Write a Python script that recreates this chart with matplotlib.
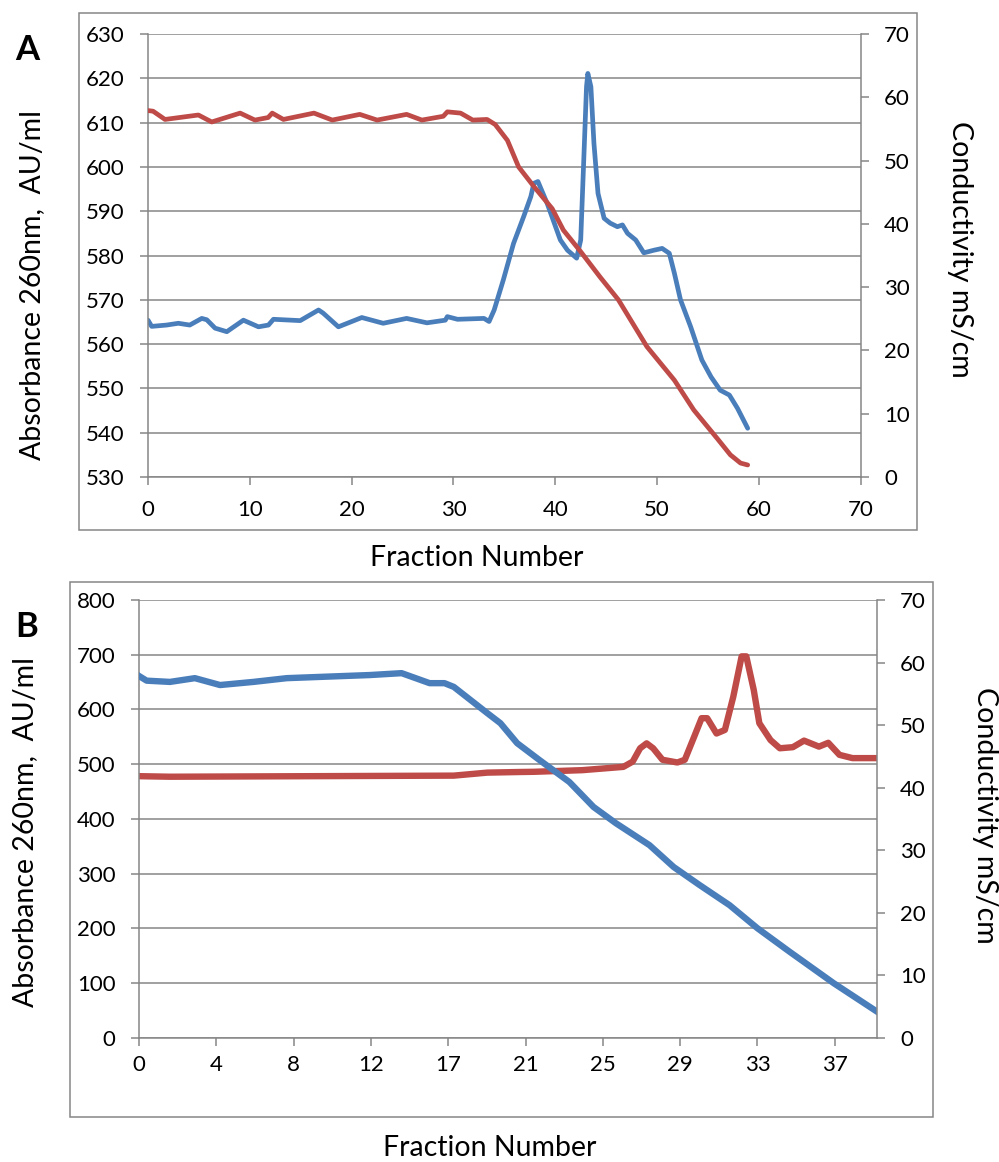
import matplotlib
matplotlib.use('Agg')
import matplotlib.pyplot as plt
from matplotlib.patches import Rectangle
import numpy as np

plt.rcParams['font.family'] = ['Lato', 'DejaVu Sans']

######################### DATA ################################################

# panel A: absorbance (blue, left axis) and conductivity (red, right axis)
a_frac_abs = [0, 0.36, 1.83, 2.98, 4.1, 5.28, 5.77, 6.59, 7.74, 9.37,
              10.85, 11.83, 12.32, 14.95, 16.75, 17.2, 18.7, 21.0, 23.1, 25.4,
              27.4, 29.2, 29.4, 30.4, 33.0, 33.5, 34.0, 34.9, 35.9, 36.9,
              37.6, 37.9, 38.3, 39.2, 40.5, 41.2, 42.1, 42.5, 42.8, 43.07,
              43.2, 43.5, 43.8, 44.2, 44.8, 45.4, 46.1, 46.6, 47.1, 47.9,
              48.7, 49.7, 50.5, 51.2, 51.7, 52.3, 53.3, 54.4, 55.3, 56.2,
              57.1, 57.9, 58.9]
a_abs = [565.4, 564.0, 564.3, 564.7, 564.3, 565.8, 565.5, 563.6, 562.8, 565.4,
         563.9, 564.3, 565.6, 565.3, 567.7, 567.0, 563.9, 566.0, 564.7, 565.8,
         564.8, 565.4, 566.2, 565.6, 565.8, 565.1, 567.7, 574.5, 582.7, 588.8,
         593.3, 596.3, 596.7, 591.8, 583.5, 581.2, 579.4, 583.5, 601.6, 618.1,
         621.1, 618.1, 605.3, 594.0, 588.4, 587.3, 586.5, 586.9, 585.0, 583.5,
         580.6, 581.2, 581.6, 580.5, 576.0, 570.0, 563.9, 556.4, 552.6, 549.6,
         548.5, 545.5, 541.0]

a_frac_cond = [0, 0.5, 1.67, 4.95, 6.26, 9.05, 10.5, 11.8, 12.2, 13.3,
               16.3, 18.1, 20.8, 22.5, 25.4, 26.9, 29.0, 29.4, 30.7, 31.9,
               33.3, 34.1, 35.3, 36.4, 37.9, 39.7, 40.8, 42.5, 44.4, 46.2,
               47.6, 49.0, 51.7, 53.6, 55.9, 57.2, 58.2, 58.9]
a_cond = [57.9, 57.8, 56.5, 57.2, 56.1, 57.5, 56.4, 56.8, 57.5, 56.5,
          57.5, 56.4, 57.3, 56.4, 57.3, 56.4, 57.0, 57.7, 57.5, 56.4,
          56.5, 55.7, 53.2, 49.0, 45.9, 42.4, 39.0, 35.6, 31.6, 28.0,
          24.3, 20.6, 15.3, 10.6, 6.1, 3.5, 2.2, 1.9]

# panel B: absorbance (red, left axis) and conductivity (blue, right axis)
b_frac_abs = [0, 1.66, 16.9, 18.7, 20.4, 21.2, 23.8, 26.0, 26.5, 26.9,
              27.25, 27.6, 28.1, 28.9, 29.3, 29.8, 30.2, 30.5, 31.0, 31.45,
              31.9, 32.35, 32.6, 33.0, 33.3, 33.9, 34.4, 35.1, 35.7, 36.5,
              37.0, 37.6, 38.3, 39.6]
b_abs = [478, 477, 479, 484.5, 485.6, 486, 489, 495, 504.6, 529,
         538, 529, 508, 503, 508, 550, 584, 584, 556, 562.5,
         623, 697, 697, 635.6, 574.8, 544, 529, 531, 543, 532,
         539, 517, 511, 511]

b_frac_cond = [0, 0.41, 1.66, 3.0, 4.35, 6.14, 7.93, 10.6, 12.4, 14.1,
               15.6, 16.4, 16.9, 18.7, 19.4, 20.3, 21.5, 23.1, 24.4, 25.6,
               27.4, 28.7, 30.1, 31.7, 33.2, 34.9, 37.3, 39.6]
b_cond = [57.85, 57.1, 56.9, 57.5, 56.4, 56.9, 57.5, 57.8, 58.0, 58.3,
          56.7, 56.7, 56.1, 51.9, 50.3, 47.1, 44.4, 40.9, 36.9, 34.3,
          30.8, 27.3, 24.4, 21.2, 17.5, 13.8, 8.7, 4.2]

b_xlabels = ['0', '4', '8', '12', '17', '21', '25', '29', '33', '37']

######################### FIG PARAMS ##########################################

W, H = 999, 1162
blue = '#4A7EBB'
red = '#BE4B48'
gray = '#868686'
tfs = 16     # tick label size
lfs = 20.5   # axis title size
ylab = 'Absorbance 260nm,  AU/ml'
y2lab = 'Conductivity mS/cm'
xlab = 'Fraction Number'


def px(x0, y0, x1, y1):
    # pixel box -> figure fraction [left, bottom, width, height]
    return [x0 / W, 1 - y1 / H, (x1 - x0) / W, (y1 - y0) / H]


def style(ax, ax2, xpad, ypad):
    for a in (ax, ax2):
        for s in a.spines.values():
            s.set_color(gray)
            s.set_linewidth(1.1)
        a.spines['top'].set_visible(False)
    ax.spines['right'].set_visible(False)
    ax2.spines['left'].set_visible(False)
    ax2.spines['bottom'].set_visible(False)
    ax.tick_params(axis='x', direction='out', length=5.5, width=1.1, color=gray,
                   labelsize=tfs, pad=xpad)
    ax.tick_params(axis='y', direction='out', length=5.8, width=1.1, color=gray,
                   labelsize=tfs, pad=ypad)
    ax2.tick_params(axis='y', direction='out', length=5.8, width=1.1, color=gray,
                    labelsize=tfs, pad=ypad)
    ax.yaxis.grid(True, color=gray, linewidth=1.1)
    ax.set_axisbelow(True)
    ax2.set_ylim(0, 70)
    ax2.set_yticks(np.arange(0, 71, 10))


######################### GENERATE FIGS #######################################

fig = plt.figure(figsize=(W / 100, H / 100), dpi=100)

# outer chart frames
for box in [(79, 13, 917, 530), (70, 582, 933, 1117)]:
    fig.patches.append(Rectangle((box[0] / W, 1 - box[3] / H),
                                 (box[2] - box[0]) / W, (box[3] - box[1]) / H,
                                 transform=fig.transFigure, fill=False,
                                 edgecolor=gray, linewidth=1.1))

# ---- panel A
ax = fig.add_axes(px(148, 34, 860.7, 477))
ax2 = ax.twinx()
ax.plot(a_frac_abs, a_abs, c=blue, lw=3.4, solid_joinstyle='round', solid_capstyle='round')
ax2.plot(a_frac_cond, a_cond, c=red, lw=3.4, solid_joinstyle='round', solid_capstyle='round')
ax.set_xlim(0, 70)
ax.set_xticks(np.arange(0, 71, 10))
ax.set_ylim(530, 630)
ax.set_yticks(np.arange(530, 631, 10))
style(ax, ax2, 11, 11)

fig.text(27 / W, 1 - 50 / H, 'A', fontsize=25, fontweight='bold', ha='center', va='center')
fig.text(32 / W, 1 - 285 / H, ylab, fontsize=lfs, rotation=90, ha='center', va='center')
fig.text(960 / W, 1 - 249 / H, y2lab, fontsize=lfs, rotation=270, ha='center', va='center')
fig.text(477 / W, 1 - 558 / H, xlab, fontsize=lfs, ha='center', va='center')

# ---- panel B
bx = fig.add_axes(px(139, 600, 876.7, 1037.7))
bx2 = bx.twinx()
bx.plot(b_frac_abs, b_abs, c=red, lw=4.6, solid_joinstyle='round')
bx2.plot(b_frac_cond, b_cond, c=blue, lw=4.6, solid_joinstyle='round')
bx.set_xlim(0, 39.6)
bx.set_xticks(np.arange(len(b_xlabels)) * 4.15)
bx.set_xticklabels(b_xlabels)
bx.set_ylim(0, 800)
bx.set_yticks(np.arange(0, 801, 100))
style(bx, bx2, 7, 11)

fig.text(27 / W, 1 - 627 / H, 'B', fontsize=25, fontweight='bold', ha='center', va='center')
fig.text(25 / W, 1 - 832 / H, ylab, fontsize=lfs, rotation=90, ha='center', va='center')
fig.text(985 / W, 1 - 815 / H, y2lab, fontsize=lfs, rotation=270, ha='center', va='center')
fig.text(490 / W, 1 - 1148 / H, xlab, fontsize=lfs, ha='center', va='center')

plt.savefig('out.png', dpi=100)
plt.close()
